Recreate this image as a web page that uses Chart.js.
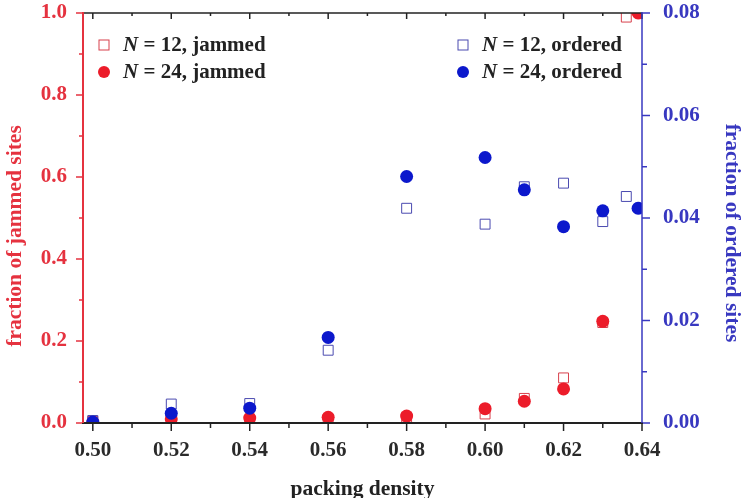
<!DOCTYPE html>
<html><head><meta charset="utf-8">
<script src="https://cdn.jsdelivr.net/npm/chart.js@4/dist/chart.umd.min.js"></script>
<style>html,body{margin:0;padding:0;background:#fff}#wrap{width:747px;height:498px;position:relative}</style>
</head><body><div id="wrap"><canvas id="c" width="747" height="498"></canvas></div>
<script>
const densityJammed12 = [0.50, 0.52, 0.54, 0.56, 0.58, 0.60, 0.61, 0.62, 0.63, 0.636];
const jammed12        = [0.004, 0.006, 0.008, 0.010, 0.014, 0.022, 0.060, 0.110, 0.245, 0.99];
const densityJammed24 = [0.50, 0.52, 0.54, 0.56, 0.58, 0.60, 0.61, 0.62, 0.63, 0.639];
const jammed24        = [0.001, 0.010, 0.012, 0.014, 0.017, 0.035, 0.053, 0.083, 0.248, 1.0];
const densityOrdered12 = [0.50, 0.52, 0.54, 0.56, 0.58, 0.60, 0.61, 0.62, 0.63, 0.636];
const ordered12        = [0.0005, 0.0037, 0.0038, 0.0142, 0.0419, 0.0388, 0.0461, 0.0468, 0.0393, 0.0442];
const densityOrdered24 = [0.50, 0.52, 0.54, 0.56, 0.58, 0.60, 0.61, 0.62, 0.63, 0.639];
const ordered24        = [0.0002, 0.0019, 0.0029, 0.0167, 0.0481, 0.0518, 0.0455, 0.0383, 0.0414, 0.0419];

const xTickValues = [0.50, 0.51, 0.52, 0.53, 0.54, 0.55, 0.56, 0.57, 0.58, 0.59, 0.60, 0.61, 0.62, 0.63, 0.64];
const xTickLabels = ['0.50', '', '0.52', '', '0.54', '', '0.56', '', '0.58', '', '0.60', '', '0.62', '', '0.64'];
const yTickValues = [0, 0.1, 0.2, 0.3, 0.4, 0.5, 0.6, 0.7, 0.8, 0.9, 1.0];
const yTickLabels = ['0.0', '', '0.2', '', '0.4', '', '0.6', '', '0.8', '', '1.0'];
const y1TickValues = [0, 0.01, 0.02, 0.03, 0.04, 0.05, 0.06, 0.07, 0.08];
const y1TickLabels = ['0.00', '', '0.02', '', '0.04', '', '0.06', '', '0.08'];

const legendLeft = ['N', ' = 12, jammed', 'N', ' = 24, jammed'];
const legendRight = ['N', ' = 12, ordered', 'N', ' = 24, ordered'];
const xTitle = 'packing density';
const yTitle = 'fraction of jammed sites';
const y1Title = 'fraction of ordered sites';

const RED = '#ec1c2a';
const BLUE = '#0c18cc';
const RED_AX = '#e5323f';
const BLUE_AX = '#3838c0';
const FONT = "'Liberation Serif', 'Times New Roman', serif";

const pts = (xs, ys) => xs.map((x, i) => ({x: x, y: ys[i]}));

const decor = {
  id: 'decor',
  afterDatasetsDraw(chart) {
    const {ctx, chartArea: a, scales} = chart;
    const {x, y, y1} = scales;
    ctx.save();
    const line = (x1, y1_, x2, y2, c, w) => {
      ctx.beginPath(); ctx.strokeStyle = c; ctx.lineWidth = w;
      ctx.moveTo(x1, y1_); ctx.lineTo(x2, y2); ctx.stroke();
    };
    xTickValues.forEach((v, i) => {
      const px = x.getPixelForValue(v);
      const major = i % 2 === 0;
      line(px, a.bottom, px, a.bottom + (major ? 8 : 5), '#222', 1.5);
      line(px, a.top, px, a.top + (major ? 6 : 3), '#222', 1.5);
    });
    yTickValues.forEach((v, i) => {
      const py = y.getPixelForValue(v);
      const major = i % 2 === 0;
      line(a.left, py, a.left - (major ? 7 : 4), py, RED_AX, 1.5);
    });
    y1TickValues.forEach((v, i) => {
      const py = y1.getPixelForValue(v);
      const major = i % 2 === 0;
      line(a.right, py, a.right + (major ? 8 : 5), py, BLUE_AX, 1.5);
    });
    line(a.left, a.top, a.right, a.top, '#222', 1.5);
    line(a.left - 1, a.bottom, a.right + 1, a.bottom, '#222', 2);
    line(a.left, a.top - 1, a.left, a.bottom, RED_AX, 2);
    line(a.right, a.top - 1, a.right, a.bottom, BLUE_AX, 1.5);

    const bold = "bold 21px " + FONT;
    const ital = "italic bold 21px " + FONT;
    const entry = (sx, sy, type, color, parts) => {
      if (type === 'sq') {
        ctx.strokeStyle = color; ctx.lineWidth = 1;
        ctx.strokeRect(sx - 5, sy - 5, 10, 10);
      } else {
        ctx.fillStyle = color; ctx.beginPath(); ctx.arc(sx, sy, 6, 0, Math.PI * 2); ctx.fill();
      }
      ctx.fillStyle = '#222'; ctx.textBaseline = 'middle'; ctx.textAlign = 'left';
      let tx = sx + 19;
      ctx.font = ital; ctx.fillText(parts[0], tx, sy + 1); tx += ctx.measureText(parts[0]).width;
      ctx.font = bold; ctx.fillText(parts[1], tx, sy + 1);
    };
    entry(104, 45, 'sq', '#d8404c', legendLeft.slice(0, 2));
    entry(104, 72, 'ci', RED, legendLeft.slice(2, 4));
    entry(463, 45, 'sq', '#4a4ab0', legendRight.slice(0, 2));
    entry(463, 72, 'ci', BLUE, legendRight.slice(2, 4));

    ctx.font = "bold 21.5px " + FONT;
    ctx.textAlign = 'center'; ctx.textBaseline = 'middle';
    ctx.fillStyle = '#222';
    ctx.fillText(xTitle, (a.left + a.right) / 2, 489);
    ctx.save(); ctx.translate(15, 236); ctx.rotate(-Math.PI / 2);
    ctx.fillStyle = RED_AX; ctx.fillText(yTitle, 0, 0); ctx.restore();
    ctx.save(); ctx.translate(732, 233); ctx.rotate(Math.PI / 2);
    ctx.fillStyle = BLUE_AX; ctx.fillText(y1Title, 0, 0); ctx.restore();
    ctx.restore();
  }
};

const tickFont = {family: FONT, size: 21, weight: 'bold'};

new Chart(document.getElementById('c'), {
  type: 'scatter',
  data: {
    datasets: [
      {label: 'N = 12, jammed', data: pts(densityJammed12, jammed12), yAxisID: 'y', order: 4,
       pointStyle: 'rect', pointRadius: 7, borderWidth: 1, borderColor: '#d8404c', backgroundColor: 'rgba(0,0,0,0)', clip: 0},
      {label: 'N = 12, ordered', data: pts(densityOrdered12, ordered12), yAxisID: 'y1', order: 3,
       pointStyle: 'rect', pointRadius: 7, borderWidth: 1, borderColor: '#4a4ab0', backgroundColor: 'rgba(0,0,0,0)', clip: 0},
      {label: 'N = 24, jammed', data: pts(densityJammed24, jammed24), yAxisID: 'y', order: 2,
       pointStyle: 'circle', pointRadius: 6.5, borderWidth: 0, backgroundColor: RED, clip: 0},
      {label: 'N = 24, ordered', data: pts(densityOrdered24, ordered24), yAxisID: 'y1', order: 1,
       pointStyle: 'circle', pointRadius: 6.5, borderWidth: 0, backgroundColor: BLUE, clip: 0}
    ]
  },
  options: {
    responsive: false,
    animation: false,
    layout: {padding: {top: 13, left: 0, right: 0, bottom: 0}},
    plugins: {legend: {display: false}, tooltip: {enabled: false}},
    scales: {
      x: {
        type: 'linear', min: 0.4975, max: 0.64,
        grid: {display: false, drawTicks: true, tickLength: 15}, border: {display: false},
        afterBuildTicks: s => { s.ticks = xTickValues.map(v => ({value: v})); },
        afterFit: s => { s.height = 75; },
        ticks: {callback: (v, i) => xTickLabels[i], font: tickFont, color: '#2a2a2a', padding: 0, autoSkip: false, maxRotation: 0}
      },
      y: {
        position: 'left', min: 0, max: 1,
        grid: {display: false, drawTicks: true, tickLength: 16}, border: {display: false},
        afterBuildTicks: s => { s.ticks = yTickValues.map(v => ({value: v})); },
        afterFit: s => { s.width = 83; },
        ticks: {callback: (v, i) => yTickLabels[i], font: tickFont, color: RED_AX, padding: 0, autoSkip: false}
      },
      y1: {
        position: 'right', min: 0, max: 0.08,
        grid: {display: false, drawTicks: true, tickLength: 21}, border: {display: false},
        afterBuildTicks: s => { s.ticks = y1TickValues.map(v => ({value: v})); },
        afterFit: s => { s.width = 105; },
        ticks: {callback: (v, i) => y1TickLabels[i], font: tickFont, color: BLUE_AX, padding: 0, autoSkip: false}
      }
    }
  },
  plugins: [decor]
});
</script>
</body></html>
